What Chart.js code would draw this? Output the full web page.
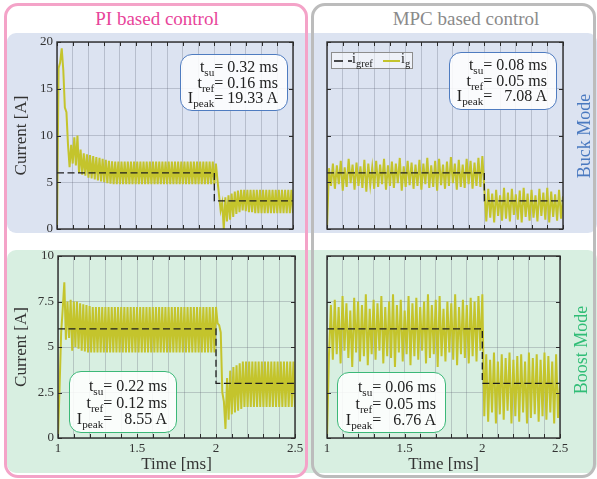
<!DOCTYPE html>
<html>
<head>
<meta charset="utf-8">
<script src="https://cdn.jsdelivr.net/npm/chart.js@4.4.1/dist/chart.umd.min.js"></script>
<style>
  html, body { margin: 0; padding: 0; background: #fff; }
  #page { position: relative; width: 597px; height: 479px; overflow: hidden; font-family: "Liberation Serif", serif; color: #222; }
  .band { position: absolute; left: 7px; width: 590px; border-radius: 9px; }
  #buckBand { top: 33px; height: 200px; background: #dce3f1; }
  #boostBand { top: 250px; height: 223px; background: #d8efe1; }
  .frame { position: absolute; top: 3px; height: 469px; border: 3px solid; border-radius: 14px; }
  #piFrame { left: 4px; width: 298px; border-color: #f4a3c8; }
  #mpcFrame { left: 311px; width: 279px; border-color: #bcbcbc; }
  canvas { position: absolute; left: 0; top: 0; }
  .title { position: absolute; top: 8px; font-size: 19px; line-height: 22px; text-align: center; }
  #piTitle { left: 7px; width: 300px; color: #e8449a; }
  #mpcTitle { left: 316px; width: 300px; color: #8a8a8a; }
  .side { position: absolute; width: 140px; height: 22px; line-height: 22px; font-size: 18px; text-align: center;
          transform: translate(-50%, -50%) rotate(-90deg); }
  #buckLabel { left: 584px; top: 136px; color: #4a79c0; }
  #boostLabel { left: 581px; top: 350px; color: #30bd76; }
  .info { position: absolute; box-sizing: border-box; border: 1.3px solid; border-radius: 12px;
          background: rgba(255,255,255,0.86); text-align: right; padding-right: 9px; font-size: 16px; white-space: nowrap; }
  .info.buck { border-color: #4f7cc0; line-height: 15.5px; padding-top: 4px; }
  .info.boost { border-color: #3cb878; line-height: 16.7px; padding-top: 6px; }
  sub { font-size: 70%; vertical-align: -0.35em; line-height: 0; }
  #legend { position: absolute; left: 331px; top: 52px; width: 82px; height: 17px; box-sizing: border-box;
            border: 1px solid #8d8d8d; background: rgba(255,255,255,0.5); font-size: 14px; }
  #legend svg, #legend span { position: absolute; }
  #legend span { top: -1px; line-height: 14px; }
  #legend sub { font-size: 75%; }
</style>
</head>
<body>
<div id="page">
  <div class="band" id="buckBand"></div>
  <div class="band" id="boostBand"></div>
  <div class="frame" id="piFrame"></div>
  <div class="frame" id="mpcFrame"></div>
  <div class="title" id="piTitle">PI based control</div>
  <div class="title" id="mpcTitle">MPC based control</div>

  <canvas id="piBuckChart" width="597" height="479"></canvas>
  <canvas id="mpcBuckChart" width="597" height="479"></canvas>
  <canvas id="piBoostChart" width="597" height="479"></canvas>
  <canvas id="mpcBoostChart" width="597" height="479"></canvas>

  <div class="side" id="buckLabel">Buck Mode</div>
  <div class="side" id="boostLabel">Boost Mode</div>

  <div class="info buck" style="left:180px; top:54px; width:108px; height:57px;">
    t<sub>su</sub>= 0.32 ms<br>t<sub>ref</sub>= 0.16 ms<br>I<sub>peak</sub>= 19.33 A
  </div>
  <div class="info buck" style="left:449px; top:52px; width:108px; height:58px;">
    t<sub>su</sub>= 0.08 ms<br>t<sub>ref</sub>= 0.05 ms<br>I<sub>peak</sub>= &#8199;7.08 A
  </div>
  <div class="info boost" style="left:69px; top:371px; width:108px; height:62px;">
    t<sub>su</sub>= 0.22 ms<br>t<sub>ref</sub>= 0.12 ms<br>I<sub>peak</sub>= &#8199;8.55 A
  </div>
  <div class="info boost" style="left:337px; top:372px; width:109px; height:61px;">
    t<sub>su</sub>= 0.06 ms<br>t<sub>ref</sub>= 0.05 ms<br>I<sub>peak</sub>= &#8199;6.76 A
  </div>

  <div id="legend">
    <svg style="left:2px; top:5px;" width="18" height="6"><line x1="0" y1="3" x2="18" y2="3" stroke="#111" stroke-width="1.4" stroke-dasharray="9 5 4 3"/></svg>
    <span style="left:20px;">i<sub>gref</sub></span>
    <svg style="left:51px; top:5px;" width="17" height="6"><line x1="0" y1="3" x2="17" y2="3" stroke="#c4c42c" stroke-width="2"/></svg>
    <span style="left:69px;">i<sub>g</sub></span>
  </div>
</div>

<script>
// axis ticks and labels
const timeTicks = [1.0, 1.1, 1.2, 1.3, 1.4, 1.5, 1.6, 1.7, 1.8, 1.9, 2.0, 2.1, 2.2, 2.3, 2.4, 2.5];
const timeLabels = ["1", "1.5", "2", "2.5"];
const buckTicks = [0, 5, 10, 15, 20];
const boostTicks = [0, 2.5, 5, 7.5, 10];

// reference current i_gref (A)
const refTimes = [1.0, 2.0, 2.0, 2.5];
const refCurrent = [6, 6, 3, 3];

// sampled grid current i_g (A), first sample at 1 ms
const tStart = 1.0;
const piStep = 0.01;    // ms between samples
const mpcStep = 0.0125; // ms between samples

const piBuck = [
  0, 17.2, 17.8, 19.33, 17.0, 13.0, 12.5, 9.0, 6.6, 9.0,
  7.0, 9.8, 6.8, 10.0, 6.0, 8.5, 5.8, 8.1, 5.7, 8.0,
  5.5, 7.9, 5.4, 7.8, 5.3, 7.7, 5.2, 7.6, 5.1, 7.5,
  5.0, 7.4, 4.9, 7.3, 4.85, 7.25, 4.8, 7.2, 4.8, 7.2,
  4.8, 7.2, 4.8, 7.2, 4.8, 7.2, 4.8, 7.2, 4.8, 7.2,
  4.8, 7.2, 4.8, 7.2, 4.8, 7.2, 4.8, 7.2, 4.8, 7.2,
  4.8, 7.2, 4.8, 7.2, 4.8, 7.2, 4.8, 7.2, 4.8, 7.2,
  4.8, 7.2, 4.8, 7.2, 4.8, 7.2, 4.8, 7.2, 4.8, 7.2,
  4.8, 7.2, 4.8, 7.2, 4.8, 7.2, 4.8, 7.2, 4.8, 7.2,
  4.8, 7.2, 4.8, 7.2, 4.8, 7.2, 4.8, 7.2, 4.8, 7.2,
  4.8, 7.0, 5.2, 3.6, 2.0, 2.8, 0.0, 3.4, 0.8, 3.6,
  1.0, 3.8, 1.3, 4.0, 1.6, 4.1, 1.8, 4.2, 2.0, 4.2,
  1.9, 4.2, 1.8, 4.2, 1.8, 4.2, 1.7, 4.2, 1.7, 4.2,
  1.7, 4.2, 1.7, 4.2, 1.7, 4.2, 1.7, 4.2, 1.7, 4.2,
  1.7, 4.2, 1.7, 4.2, 1.7, 4.2, 1.7, 4.2, 1.7, 4.2,
  1.7
];

const piBoost = [
  0, 2.8, 5.8, 7.1, 8.55, 5.4, 7.5, 5.5, 7.6, 4.8,
  7.5, 5.0, 7.5, 4.9, 7.4, 4.8, 7.35, 4.75, 7.3, 4.7,
  7.25, 4.7, 7.2, 4.7, 7.2, 4.7, 7.2, 4.7, 7.2, 4.7,
  7.2, 4.7, 7.2, 4.7, 7.2, 4.7, 7.2, 4.7, 7.2, 4.7,
  7.2, 4.7, 7.2, 4.7, 7.2, 4.7, 7.2, 4.7, 7.2, 4.7,
  7.2, 4.7, 7.2, 4.7, 7.2, 4.7, 7.2, 4.7, 7.2, 4.7,
  7.2, 4.7, 7.2, 4.7, 7.2, 4.7, 7.2, 4.7, 7.2, 4.7,
  7.2, 4.7, 7.2, 4.7, 7.2, 4.7, 7.2, 4.7, 7.2, 4.7,
  7.2, 4.7, 7.2, 4.7, 7.2, 4.7, 7.2, 4.7, 7.2, 4.7,
  7.2, 4.7, 7.2, 4.7, 7.2, 4.7, 7.2, 4.7, 7.2, 4.7,
  7.2, 6.3, 6.2, 5.8, 2.5, 2.0, 0.5, 3.3, 1.0, 3.7,
  1.3, 3.9, 1.4, 4.0, 1.5, 4.1, 1.6, 4.2, 1.7, 4.2,
  1.7, 4.2, 1.7, 4.2, 1.7, 4.2, 1.7, 4.2, 1.7, 4.2,
  1.7, 4.2, 1.7, 4.2, 1.7, 4.2, 1.7, 4.2, 1.7, 4.2,
  1.7, 4.2, 1.7, 4.2, 1.7, 4.2, 1.7, 4.2, 1.7, 4.2,
  1.7
];

const mpcBuck = [
  0, 6.5, 4.6, 7.0, 4.3, 6.8, 4.8, 7.3, 4.1, 6.6,
  4.5, 7.5, 4.9, 6.9, 4.2, 7.1, 4.6, 6.7, 4.4, 7.4,
  4.0, 7.0, 4.7, 6.6, 4.3, 7.3, 4.5, 6.9, 4.8, 7.5,
  4.2, 6.8, 4.6, 7.2, 4.4, 7.0, 4.9, 7.6, 4.1, 6.7,
  4.5, 7.3, 4.7, 7.1, 4.3, 6.9, 4.6, 7.4, 4.2, 7.0,
  4.8, 7.6, 4.4, 6.8, 4.5, 7.3, 4.1, 7.5, 4.7, 6.9,
  4.3, 7.2, 4.6, 7.7, 4.9, 7.0, 4.2, 7.4, 4.5, 6.9,
  4.4, 7.5, 4.8, 7.3, 4.3, 7.1, 4.6, 7.6, 4.5, 7.8,
  4.3, 0.8, 4.3, 1.2, 3.8, 0.7, 4.2, 1.4, 3.6, 0.9,
  4.4, 1.1, 3.9, 0.8, 4.3, 1.5, 3.7, 1.0, 4.1, 0.7,
  4.4, 1.3, 3.8, 0.9, 4.2, 1.2, 3.6, 0.8, 4.3, 1.4,
  3.9, 1.0, 4.4, 0.7, 4.0, 1.3, 3.7, 0.9, 4.2, 1.1,
  3.5
];

const mpcBoost = [
  0, 4.5, 7.3, 4.3, 7.6, 4.6, 7.2, 4.1, 7.8, 4.8,
  7.4, 4.4, 7.0, 3.9, 7.7, 4.7, 7.5, 4.2, 7.3, 4.5,
  7.9, 4.0, 7.1, 4.6, 7.6, 4.3, 7.4, 4.8, 7.8, 4.1,
  7.2, 4.5, 7.5, 4.4, 7.9, 3.9, 7.3, 4.7, 7.6, 4.2,
  7.0, 4.6, 7.8, 4.0, 7.4, 4.5, 7.7, 4.3, 7.2, 4.8,
  7.5, 4.1, 7.9, 4.4, 7.3, 4.6, 7.6, 3.9, 7.8, 4.5,
  7.1, 4.2, 7.5, 4.7, 7.4, 4.3, 7.9, 4.0, 7.2, 4.6,
  7.6, 4.4, 7.3, 4.1, 7.7, 4.5, 7.5, 4.2, 7.8, 4.8,
  7.9, 1.2, 4.6, 0.9, 4.3, 1.4, 4.7, 0.8, 4.2, 1.3,
  4.6, 1.0, 4.4, 1.5, 4.7, 0.8, 4.3, 1.2, 4.5, 0.9,
  4.6, 1.4, 4.2, 0.8, 4.7, 1.1, 4.4, 1.3, 4.6, 0.9,
  4.3, 1.2, 4.7, 1.0, 4.5, 1.4, 4.2, 0.8, 4.6, 1.1,
  3.0
];

const W = 597, H = 479;
const serif = "'Liberation Serif', serif";
const gridColor = "rgba(90, 95, 110, 0.28)";
Chart.defaults.font.family = serif;

// box around the plot with inward tick marks, like the original figure
const boxTicks = {
  id: "boxTicks",
  afterDraw(chart) {
    const { ctx, chartArea: a, scales: { x, y } } = chart;
    ctx.save();
    ctx.strokeStyle = "#2b2b2b";
    ctx.lineWidth = 1;
    ctx.beginPath();
    x.ticks.forEach((t) => {
      const px = Math.round(x.getPixelForValue(t.value)) + 0.5;
      ctx.moveTo(px, a.bottom); ctx.lineTo(px, a.bottom - 4);
      ctx.moveTo(px, a.top); ctx.lineTo(px, a.top + 4);
    });
    y.ticks.forEach((t) => {
      const py = Math.round(y.getPixelForValue(t.value)) + 0.5;
      ctx.moveTo(a.left, py); ctx.lineTo(a.left + 4, py);
      ctx.moveTo(a.right, py); ctx.lineTo(a.right - 4, py);
    });
    ctx.stroke();
    ctx.lineWidth = 1.4;
    ctx.strokeRect(a.left, a.top, a.right - a.left, a.bottom - a.top);
    ctx.restore();
  },
};

function makeChart(id, values, step, yTicks, area, showY, showX) {
  const xH = showX ? 37 : 0;
  const points = values.map((v, i) => ({ x: tStart + i * step, y: v }));
  const ref = refTimes.map((t, i) => ({ x: t, y: refCurrent[i] }));
  return new Chart(document.getElementById(id), {
    type: "line",
    data: {
      datasets: [
        { data: ref, borderColor: "#1e1e1e", borderWidth: 1.3, borderDash: [7, 3.5], pointRadius: 0, tension: 0 },
        { data: points, borderColor: "#c4c42c", borderWidth: 2, pointRadius: 0, tension: 0 },
      ],
    },
    options: {
      responsive: false,
      animation: false,
      events: [],
      layout: {
        padding: { left: 0, top: area.top, right: W - area.right, bottom: H - area.bottom - xH },
      },
      plugins: { legend: { display: false }, tooltip: { enabled: false } },
      scales: {
        x: {
          type: "linear",
          min: 1,
          max: 2.5,
          afterBuildTicks: (s) => { s.ticks = timeTicks.map((v) => ({ value: v })); },
          afterFit: (s) => { s.height = xH; s.paddingLeft = 0; s.paddingRight = 0; },
          ticks: {
            display: showX,
            autoSkip: false,
            maxRotation: 0,
            padding: 3,
            color: "#333",
            font: { size: 13 },
            callback: (v) => (timeLabels.includes(String(v)) ? String(v) : ""),
          },
          grid: { color: gridColor, drawTicks: false },
          border: { display: false },
          title: { display: showX, text: "Time [ms]", color: "#333", font: { size: 17 }, padding: 0 },
        },
        y: {
          min: yTicks[0],
          max: yTicks[yTicks.length - 1],
          afterBuildTicks: (s) => { s.ticks = yTicks.map((v) => ({ value: v })); },
          afterFit: (s) => { s.width = area.left; s.paddingTop = 0; s.paddingBottom = 0; },
          ticks: {
            display: showY,
            autoSkip: false,
            padding: 4,
            color: "#333",
            font: { size: 13 },
            callback: (v) => String(v),
          },
          grid: { color: gridColor, drawTicks: false },
          border: { display: false },
          title: { display: showY, text: "Current [A]", color: "#333", font: { size: 17 }, padding: { top: 11, bottom: 0 } },
        },
      },
    },
    plugins: [boxTicks],
  });
}

makeChart("piBuckChart", piBuck, piStep, buckTicks, { left: 57, top: 42, right: 293, bottom: 229 }, true, false);
makeChart("mpcBuckChart", mpcBuck, mpcStep, buckTicks, { left: 327, top: 42, right: 563, bottom: 229 }, false, false);
makeChart("piBoostChart", piBoost, piStep, boostTicks, { left: 58, top: 256, right: 295, bottom: 438 }, true, true);
makeChart("mpcBoostChart", mpcBoost, mpcStep, boostTicks, { left: 327, top: 256, right: 560, bottom: 438 }, false, true);
</script>
</body>
</html>
